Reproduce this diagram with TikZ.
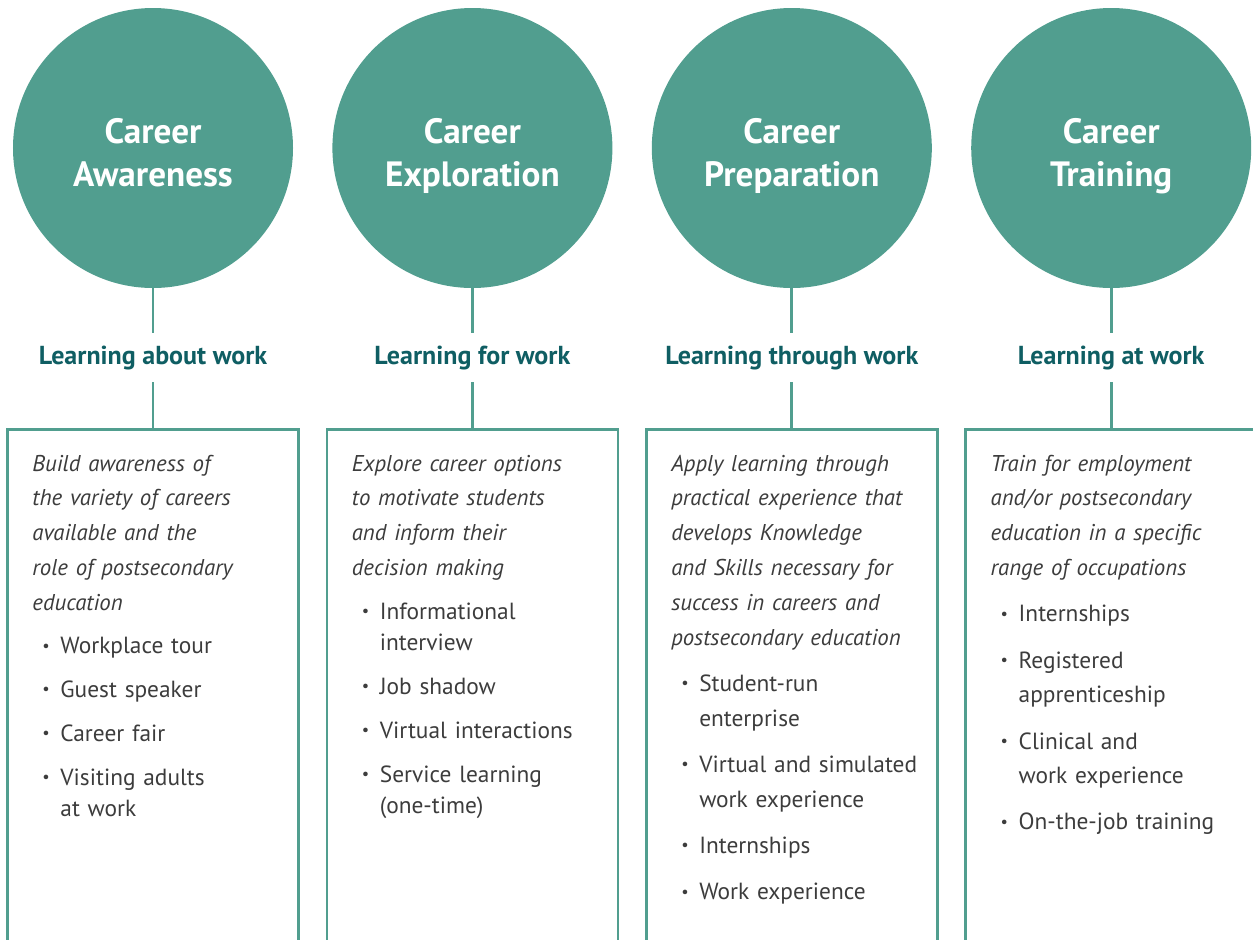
\documentclass[tikz,border=0pt]{standalone}
\usepackage{fontspec}
\setmainfont{PT Sans}
\usetikzlibrary{positioning}
\definecolor{stagefill}{RGB}{81,158,143}
\definecolor{labeltext}{RGB}{15,94,99}
\definecolor{bodytext}{RGB}{60,60,60}
\newlength{\itemskip}
\newlength{\contskip}
\newcommand{\bitem}{\hspace*{0.2cm}\makebox[0.36cm][l]{\raisebox{0.12em}{\scalebox{0.7}{\textbullet}}}}
\newcommand{\nextitem}{\\[\itemskip]}
\newcommand{\contline}{\\[\contskip]\hspace*{0.56cm}}
\tikzset{
    stage/.style={
        circle,
        fill=stagefill,
        minimum size=5.6cm,
        inner sep=0pt,
        text=white,
        text width=5cm,
        align=center,
        font=\fontsize{20}{24.4}\selectfont\bfseries,
        execute at begin node={\rule{0pt}{25.1pt}},
        execute at end node={\rule[-6pt]{0pt}{0pt}}
    },
    phaselabel/.style={
        inner sep=0pt,
        minimum height=0.96cm,
        text=labeltext,
        font=\fontsize{14.8}{16}\selectfont\bfseries
    },
    phasebox/.style={
        rectangle,
        draw=stagefill,
        line width=1.6pt,
        minimum width=5.82cm,
        minimum height=12cm,
        inner sep=0pt
    },
    desc/.style={
        anchor=base west,
        text width=5.6cm,
        align=left,
        inner sep=0pt,
        text=bodytext,
        font=\fontsize{13.3}{19.8}\selectfont
    },
    tightlist/.style={
        execute at begin node={\setlength{\itemskip}{5.1pt}\setlength{\contskip}{-1.7pt}}
    },
    looselist/.style={
        execute at begin node={\setlength{\itemskip}{6.6pt}\setlength{\contskip}{-0.2pt}}
    },
    link/.style={
        draw=stagefill,
        line width=1.6pt
    }
}
\begin{document}
\begin{tikzpicture}
\useasboundingbox (0,0) rectangle (25.06,-18.78);

% Stages
\node[stage] (aware) at (3.06,-2.96) {Career\\Awareness};
\node[stage, right=0.774cm of aware] (explore) {Career\\Exploration};
\node[stage, right=0.774cm of explore] (prep) {Career\\Preparation};
\node[stage, right=0.774cm of prep] (train) {Career\\Training};

% Labels
\node[phaselabel, below=0.9cm of aware] (aware-lbl) {Learning about work};
\node[phaselabel, below=0.9cm of explore] (explore-lbl) {Learning for work};
\node[phaselabel, below=0.9cm of prep] (prep-lbl) {Learning through work};
\node[phaselabel, below=0.9cm of train] (train-lbl) {Learning at work};

% Boxes
\node[phasebox, below=0.92cm of aware-lbl] (aware-box) {};
\node[phasebox, below=0.92cm of explore-lbl] (explore-box) {};
\node[phasebox, below=0.92cm of prep-lbl] (prep-box) {};
\node[phasebox, below=0.92cm of train-lbl] (train-box) {};

% Connections
\foreach \s in {aware, explore, prep, train} {
    \draw[link] (\s) -- (\s-lbl);
    \draw[link] (\s-lbl) -- (\s-box);
}

% Box contents
\node[desc, tightlist] (aware-txt) at ([xshift=0.52cm, yshift=-0.86cm]aware-box.north west) {%
{\fontsize{13}{19.8}\selectfont\itshape Build awareness of\\the variety of careers\\available and the\\role of postsecondary\\education}\\[5pt]
\bitem Workplace tour\nextitem
\bitem Guest speaker\nextitem
\bitem Career fair\nextitem
\bitem Visiting adults\contline at work};

\node[desc, tightlist] (explore-txt) at ([xshift=0.52cm, yshift=-0.86cm]explore-box.north west) {%
{\fontsize{13}{19.8}\selectfont\itshape Explore career options\\to motivate students\\and inform their\\decision making}\\[5pt]
\bitem Informational\contline interview\nextitem
\bitem Job shadow\nextitem
\bitem Virtual interactions\nextitem
\bitem Service learning\contline (one-time)};

\node[desc, looselist] (prep-txt) at ([xshift=0.52cm, yshift=-0.86cm]prep-box.north west) {%
{\fontsize{13}{19.8}\selectfont\itshape Apply learning through\\practical experience that\\develops Knowledge\\and Skills necessary for\\success in careers and\\postsecondary education}\\[6.8pt]
\bitem Student-run\contline enterprise\nextitem
\bitem Virtual and simulated\contline work experience\nextitem
\bitem Internships\nextitem
\bitem Work experience};

\node[desc, looselist] (train-txt) at ([xshift=0.52cm, yshift=-0.86cm]train-box.north west) {%
{\fontsize{13}{19.8}\selectfont\itshape Train for employment\\and/or postsecondary\\education in a specific\\range of occupations}\\[6.6pt]
\bitem Internships\nextitem
\bitem Registered\contline apprenticeship\nextitem
\bitem Clinical and\contline work experience\nextitem
\bitem On-the-job training};

\end{tikzpicture}
\end{document}
